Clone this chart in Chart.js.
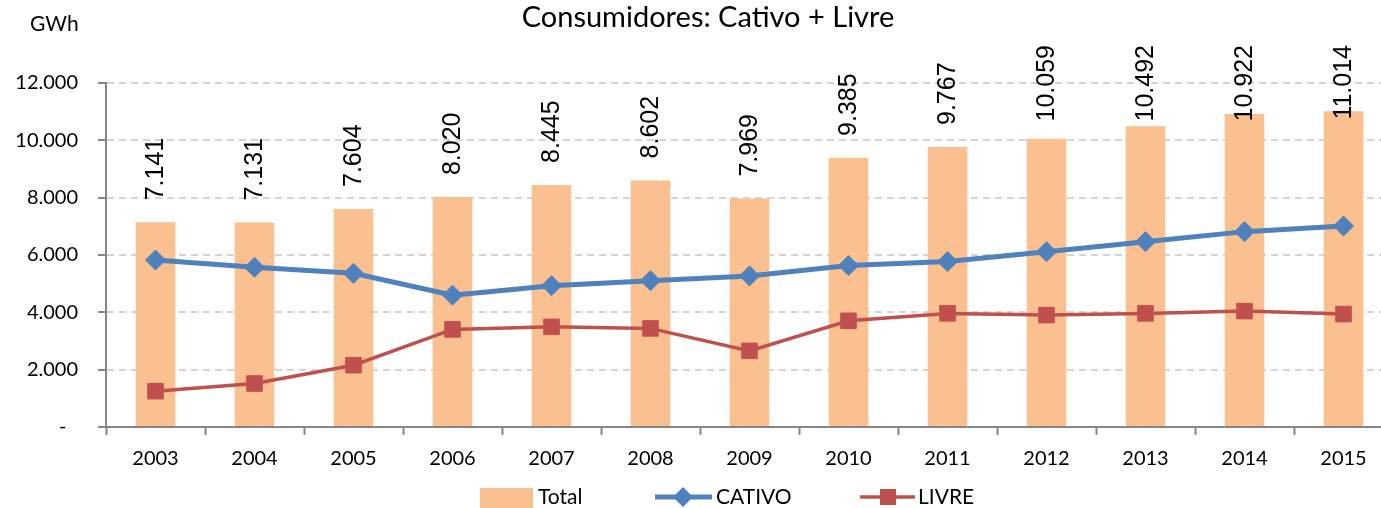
<!DOCTYPE html>
<html>
<head>
<meta charset="utf-8">
<script src="https://cdn.jsdelivr.net/npm/chart.js@4/dist/chart.umd.min.js"></script>
<style>
  html, body { margin: 0; padding: 0; background: #fff; overflow: hidden; }
  #wrap { width: 1381px; height: 508px; overflow: hidden; }
</style>
</head>
<body>
<div id="wrap"><canvas id="chart" width="1410" height="508"></canvas></div>
<script>
// values (GWh)
const years = ['2003', '2004', '2005', '2006', '2007', '2008', '2009', '2010', '2011', '2012', '2013', '2014', '2015'];
const total = [7141, 7131, 7604, 8020, 8445, 8602, 7969, 9385, 9767, 10059, 10492, 10922, 11014];
const cativo = [5825, 5570, 5360, 4600, 4930, 5105, 5270, 5630, 5770, 6115, 6465, 6815, 7010];
const livre = [1250, 1517, 2156, 3404, 3494, 3439, 2656, 3704, 3963, 3903, 3963, 4043, 3938];
const yTicks = [0, 2000, 4000, 6000, 8000, 10000, 12000];

const ORANGE = '#fac090';
const BLUE = '#4f81bd';
const RED = '#c0504d';
const AXIS = '#868686';

function fmt(v) {
  return String(v).replace(/\B(?=(\d{3})+(?!\d))/g, '.');
}

// rotated value labels above the bars
const barLabels = {
  id: 'barLabels',
  afterDatasetsDraw(chart) {
    const ctx = chart.ctx;
    const meta = chart.getDatasetMeta(0);
    ctx.save();
    ctx.font = '25px "Liberation Sans", Arial, sans-serif';
    ctx.fillStyle = '#000';
    ctx.textAlign = 'left';
    ctx.textBaseline = 'middle';
    meta.data.forEach((bar, i) => {
      const text = fmt(total[i]);
      const w = ctx.measureText(text).width;
      const start = Math.max(bar.y - 22, 45 + w);
      ctx.save();
      ctx.translate(bar.x, start);
      ctx.rotate(-Math.PI / 2);
      ctx.fillText(text, 0, 1);
      ctx.restore();
    });
    ctx.restore();
  }
};

// title, unit and legend
const decorations = {
  id: 'decorations',
  afterDraw(chart) {
    const ctx = chart.ctx;
    ctx.save();
    ctx.fillStyle = '#000';
    ctx.textBaseline = 'middle';
    ctx.textAlign = 'center';
    ctx.font = '29px Lato, sans-serif';
    ctx.fillText('Consumidores: Cativo + Livre', 708, 18);
    ctx.textAlign = 'left';
    ctx.font = '21px Lato, sans-serif';
    ctx.fillText('GWh', 30, 24);

    const ly = 497;
    ctx.font = '21px Lato, sans-serif';
    // Total
    ctx.fillStyle = ORANGE;
    ctx.fillRect(480, 488, 53, 20);
    ctx.fillStyle = '#000';
    ctx.fillText('Total', 538, ly);
    // CATIVO
    ctx.strokeStyle = BLUE;
    ctx.lineWidth = 5;
    ctx.beginPath();
    ctx.moveTo(655, ly);
    ctx.lineTo(712, ly);
    ctx.stroke();
    ctx.fillStyle = BLUE;
    ctx.beginPath();
    ctx.moveTo(683, ly - 10);
    ctx.lineTo(693, ly);
    ctx.lineTo(683, ly + 10);
    ctx.lineTo(673, ly);
    ctx.closePath();
    ctx.fill();
    ctx.fillStyle = '#000';
    ctx.fillText('CATIVO', 716, ly);
    // LIVRE
    ctx.strokeStyle = RED;
    ctx.lineWidth = 3.5;
    ctx.beginPath();
    ctx.moveTo(860, ly);
    ctx.lineTo(915, ly);
    ctx.stroke();
    ctx.fillStyle = RED;
    ctx.fillRect(880, ly - 8, 16, 16);
    ctx.fillStyle = '#000';
    ctx.fillText('LIVRE', 918, ly);
    ctx.restore();
  }
};

new Chart(document.getElementById('chart'), {
  type: 'bar',
  data: {
    labels: years,
    datasets: [
      {
        label: 'Total',
        data: total,
        backgroundColor: ORANGE,
        barPercentage: 0.8,
        categoryPercentage: 0.5,
        order: 3
      },
      {
        type: 'line',
        label: 'CATIVO',
        data: cativo,
        borderColor: BLUE,
        backgroundColor: BLUE,
        borderWidth: 5,
        pointStyle: 'rectRot',
        pointRadius: 10,
        pointBorderWidth: 1,
        tension: 0,
        order: 1
      },
      {
        type: 'line',
        label: 'LIVRE',
        data: livre,
        borderColor: RED,
        backgroundColor: RED,
        borderWidth: 3.5,
        pointStyle: 'rect',
        pointRadius: 11,
        pointBorderWidth: 1,
        tension: 0,
        order: 2
      }
    ]
  },
  options: {
    responsive: false,
    animation: false,
    devicePixelRatio: 1,
    layout: { padding: { left: 0, right: 17, top: 83, bottom: 0 } },
    plugins: {
      legend: { display: false },
      title: { display: false },
      tooltip: { enabled: false }
    },
    scales: {
      x: {
        grid: {
          drawOnChartArea: false,
          drawTicks: true,
          tickLength: 8,
          tickColor: AXIS,
          tickWidth: 2,
          offset: true
        },
        border: { color: AXIS, width: 2, z: 1 },
        ticks: {
          color: '#000',
          font: { family: 'Lato', size: 20 },
          padding: 12,
          maxRotation: 0
        },
        afterFit(scale) { scale.height = 81; }
      },
      y: {
        min: 0,
        max: 12000,
        afterBuildTicks(scale) { scale.ticks = yTicks.map(v => ({ value: v })); },
        grid: {
          color: '#d4d4d4',
          lineWidth: 2,
          tickLength: 8,
          tickColor: AXIS,
          tickWidth: 2,
          tickBorderDash: []
        },
        border: { color: AXIS, width: 2, dash: [7, 5] },
        ticks: {
          color: '#000',
          font: { family: 'Lato', size: 20 },
          padding: 20,
          callback: v => v === 0 ? '-\u2007' : fmt(v)
        },
        afterFit(scale) { scale.width = 106; }
      }
    }
  },
  plugins: [barLabels, decorations]
});
</script>
</body>
</html>
